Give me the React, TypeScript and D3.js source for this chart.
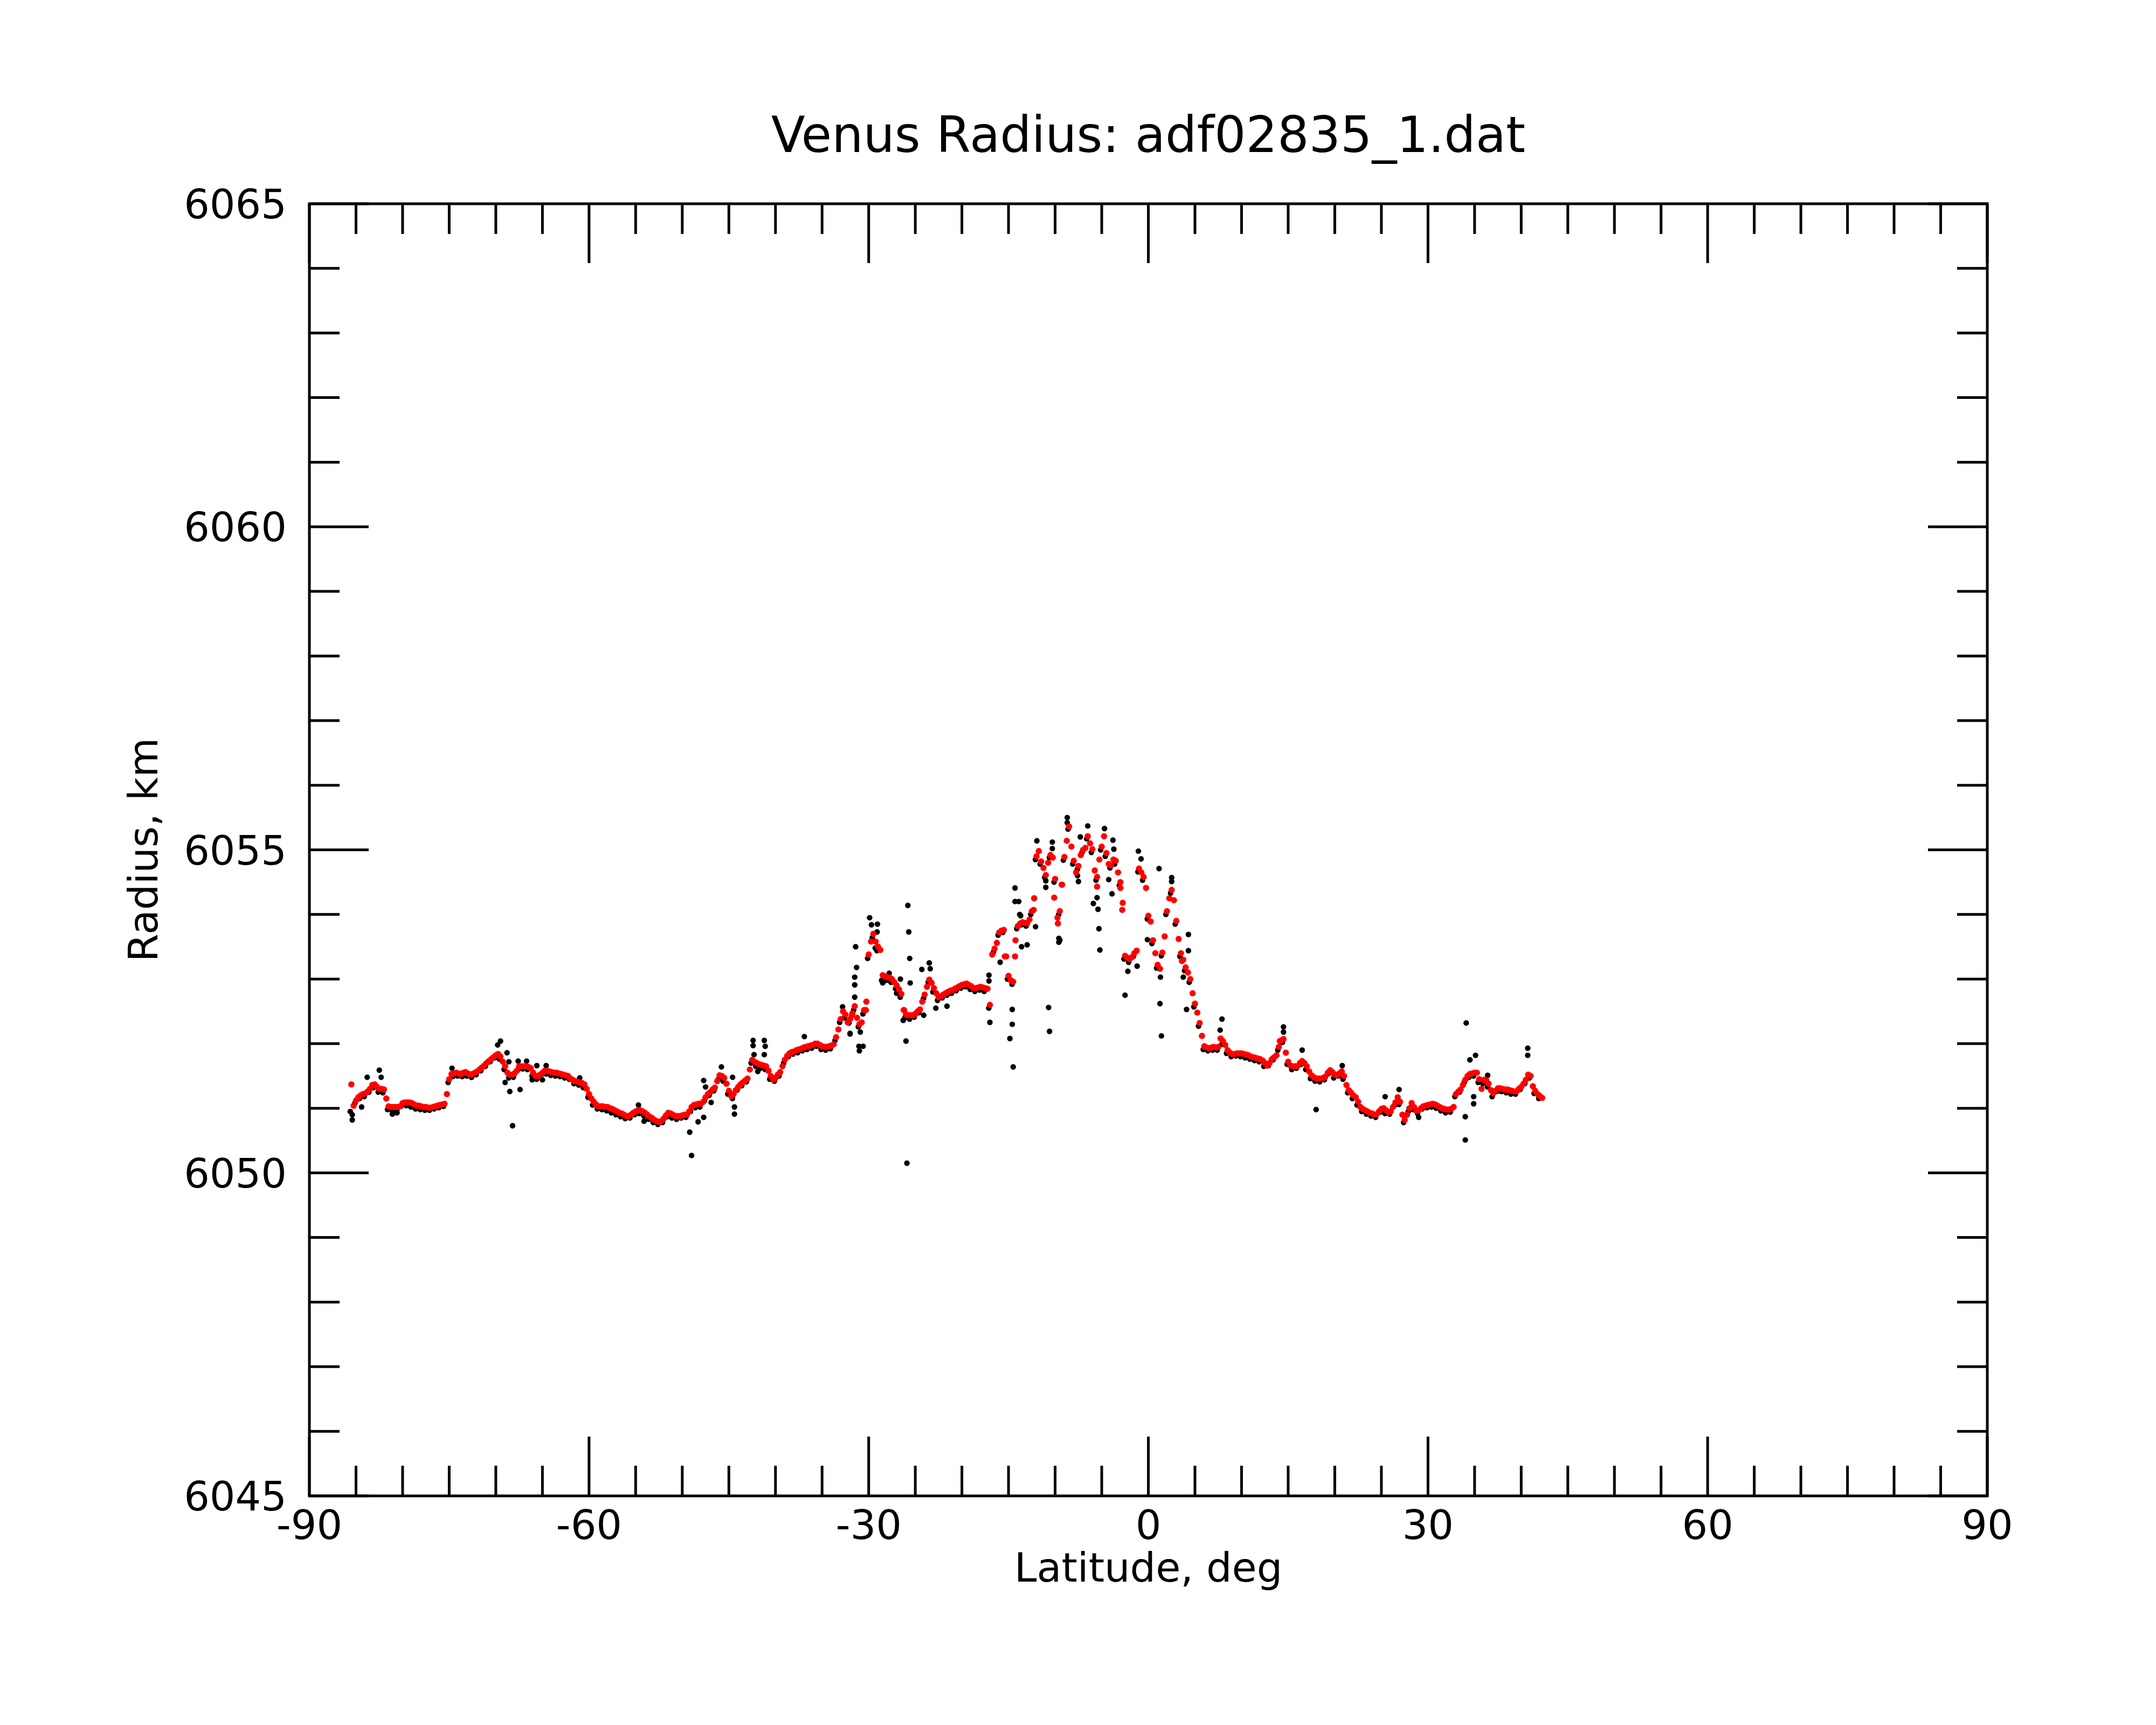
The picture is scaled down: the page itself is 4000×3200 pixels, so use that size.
import * as d3 from 'd3';

const TITLE = 'Venus Radius: adf02835_1.dat';
const X_LABEL = 'Latitude, deg';
const Y_LABEL = 'Radius, km';

const xMajorTicks = [-90, -60, -30, 0, 30, 60, 90];
const yMajorTicks = [6045, 6050, 6055, 6060, 6065];

// smoothed radius (red), one value every 0.25 deg from -85.5
const smoothStart = -85.5;
const smoothStep = 0.25;
const smoothRadius = [
  6051.37, 6051.04, 6051.12, 6051.17, 6051.20, 6051.22, 6051.23, 6051.26, 6051.30, 6051.36, 6051.37, 6051.33, 6051.30, 6051.30, 6051.29, 6051.15, 6051.03, 6051.02, 6051.02, 6051.02,
  6051.02, 6051.03, 6051.08, 6051.09, 6051.09, 6051.09, 6051.08, 6051.06, 6051.04, 6051.04, 6051.03, 6051.02, 6051.02, 6051.01, 6051.01, 6051.02, 6051.03, 6051.04, 6051.05, 6051.06,
  6051.07, 6051.22, 6051.45, 6051.53, 6051.54, 6051.55, 6051.54, 6051.53, 6051.55, 6051.56, 6051.54, 6051.52, 6051.53, 6051.55, 6051.57, 6051.60, 6051.63, 6051.66, 6051.70, 6051.73,
  6051.76, 6051.79, 6051.82, 6051.84, 6051.80, 6051.72, 6051.65, 6051.55, 6051.52, 6051.52, 6051.54, 6051.58, 6051.65, 6051.65, 6051.65, 6051.65, 6051.64, 6051.62, 6051.55, 6051.50,
  6051.50, 6051.52, 6051.55, 6051.58, 6051.58, 6051.57, 6051.56, 6051.55, 6051.55, 6051.54, 6051.53, 6051.52, 6051.51, 6051.50, 6051.46, 6051.44, 6051.42, 6051.41, 6051.40, 6051.39,
  6051.37, 6051.30, 6051.22, 6051.15, 6051.10, 6051.06, 6051.03, 6051.03, 6051.03, 6051.02, 6051.02, 6051.00, 6050.99, 6050.97, 6050.95, 6050.93, 6050.92, 6050.90, 6050.88, 6050.88,
  6050.90, 6050.93, 6050.95, 6050.97, 6050.97, 6050.95, 6050.93, 6050.90, 6050.87, 6050.85, 6050.82, 6050.80, 6050.79, 6050.80, 6050.84, 6050.89, 6050.93, 6050.92, 6050.90, 6050.88,
  6050.88, 6050.88, 6050.89, 6050.90, 6050.90, 6050.95, 6051.02, 6051.05, 6051.06, 6051.07, 6051.07, 6051.10, 6051.17, 6051.22, 6051.25, 6051.29, 6051.32, 6051.42, 6051.51, 6051.50,
  6051.47, 6051.38, 6051.27, 6051.19, 6051.22, 6051.28, 6051.33, 6051.37, 6051.40, 6051.43, 6051.46, 6051.60, 6051.75, 6051.72, 6051.70, 6051.68, 6051.67, 6051.66, 6051.65, 6051.58,
  6051.50, 6051.44, 6051.47, 6051.52, 6051.56, 6051.65, 6051.75, 6051.81, 6051.85, 6051.87, 6051.88, 6051.90, 6051.91, 6051.92, 6051.94, 6051.95, 6051.96, 6051.97, 6051.98, 6052.00,
  6052.00, 6051.98, 6051.96, 6051.95, 6051.95, 6051.96, 6051.97, 6051.99, 6052.10, 6052.22, 6052.38, 6052.50, 6052.45, 6052.33, 6052.38, 6052.47, 6052.58, 6052.40, 6052.30, 6052.33,
  6052.52, 6052.65, 6053.38, 6053.58, 6053.70, 6053.58, 6053.50, 6053.45, 6053.06, 6053.04, 6053.03, 6053.02, 6053.00, 6052.95, 6052.90, 6052.84, 6052.77, 6052.52, 6052.45, 6052.44,
  6052.44, 6052.44, 6052.46, 6052.50, 6052.53, 6052.65, 6052.76, 6052.88, 6052.99, 6052.94, 6052.86, 6052.78, 6052.72, 6052.73, 6052.76, 6052.78, 6052.80, 6052.82, 6052.83, 6052.85,
  6052.87, 6052.89, 6052.91, 6052.92, 6052.93, 6052.91, 6052.89, 6052.86, 6052.86, 6052.87, 6052.88, 6052.87, 6052.86, 6052.85, 6052.60, 6053.38, 6053.47, 6053.56, 6053.72, 6053.75,
  6053.76, 6053.35, 6053.05, 6052.98, 6052.96, 6053.60, 6053.82, 6053.86, 6053.88, 6053.87, 6053.86, 6053.92, 6054.05, 6054.25, 6054.90, 6054.98, 6054.82, 6054.72, 6054.61, 6054.80,
  6054.92, 6054.88, 6054.55, 6053.95, 6054.05, 6054.46, 6054.89, 6055.14, 6055.36, 6055.05, 6054.83, 6054.65, 6054.75, 6054.92, 6055.00, 6055.03, 6055.21, 6055.10, 6055.01, 6054.68,
  6054.58, 6054.85, 6055.05, 6055.21, 6054.95, 6054.78, 6054.76, 6054.85, 6054.83, 6054.65, 6054.50, 6054.18, 6053.36, 6053.33, 6053.31, 6053.34, 6053.40, 6053.44, 6054.71, 6054.65,
  6054.58, 6054.41, 6053.98, 6053.89, 6053.60, 6053.40, 6053.22, 6053.16, 6053.41, 6053.66, 6054.05, 6054.25, 6054.38, 6054.22, 6053.90, 6053.62, 6053.40, 6053.30, 6053.18, 6053.10,
  6053.00, 6052.78, 6052.62, 6052.48, 6052.32, 6052.12, 6051.96, 6051.94, 6051.93, 6051.94, 6051.95, 6051.94, 6051.95, 6052.08, 6052.04, 6051.98, 6051.90, 6051.86, 6051.84, 6051.84,
  6051.85, 6051.85, 6051.85, 6051.84, 6051.83, 6051.82, 6051.80, 6051.79, 6051.78, 6051.77, 6051.76, 6051.74, 6051.70, 6051.66, 6051.70, 6051.76, 6051.79, 6051.82, 6051.95, 6052.05,
  6052.07, 6051.86, 6051.72, 6051.66, 6051.65, 6051.65, 6051.65, 6051.70, 6051.73, 6051.70, 6051.65, 6051.57, 6051.51, 6051.48, 6051.46, 6051.46, 6051.46, 6051.47, 6051.49, 6051.55,
  6051.59, 6051.56, 6051.52, 6051.51, 6051.54, 6051.57, 6051.50, 6051.36, 6051.28, 6051.24, 6051.20, 6051.17, 6051.10, 6051.02, 6050.99, 6050.97, 6050.95, 6050.93, 6050.92, 6050.90,
  6050.91, 6050.95, 6050.99, 6051.00, 6050.97, 6050.94, 6050.95, 6051.02, 6051.09, 6051.17, 6051.10, 6050.90, 6050.82, 6050.90, 6051.00, 6051.08, 6051.02, 6050.96, 6050.97, 6051.00,
  6051.03, 6051.04, 6051.05, 6051.06, 6051.07, 6051.06, 6051.04, 6051.02, 6051.00, 6050.99, 6050.98, 6050.98, 6050.99, 6051.02, 6051.22, 6051.26, 6051.29, 6051.36, 6051.44, 6051.50,
  6051.53, 6051.54, 6051.55, 6051.55, 6051.45, 6051.30, 6051.44, 6051.43, 6051.38, 6051.28, 6051.23, 6051.27, 6051.31, 6051.31, 6051.30, 6051.29, 6051.29, 6051.28, 6051.27, 6051.26,
  6051.26, 6051.30, 6051.33, 6051.38, 6051.44, 6051.52, 6051.50, 6051.34, 6051.27, 6051.22, 6051.19, 6051.16,
];

// a few smoothed points that split off the main track
const smoothExtra: [number, number][] = [
  [-31.8, 6052.44], [-30.3, 6052.52], [-15.4, 6053.35], [-14.3, 6053.35], [-12.3, 6054.07],
  [-10.1, 6054.26], [-9.7, 6053.86], [-9.3, 6054.46], [-5.5, 6054.43], [-3.0, 6054.41],
  [-2.8, 6054.07], [3.6, 6053.28], [-26.2, 6052.52], [14.1, 6052.04],
];

// raw radius (black) along the track, one value every 0.5 deg from -85.5
const rawStart = -85.5;
const rawStep = 0.5;
const rawRadius = [
  6050.95, 6051.08, 6051.15, 6051.18, 6051.25, 6051.32, 6051.25, 6051.24, 6050.98, 6050.96,
  6050.97, 6051.04, 6051.04, 6051.02, 6050.99, 6050.98, 6050.97, 6050.97, 6050.99, 6051.01,
  6051.03, 6051.40, 6051.49, 6051.50, 6051.49, 6051.50, 6051.48, 6051.52, 6051.58, 6051.65,
  6051.72, 6051.78, 6051.76, 6051.60, 6051.47, 6051.48, 6051.60, 6051.61, 6051.60, 6051.50,
  6051.45, 6051.52, 6051.53, 6051.51, 6051.50, 6051.49, 6051.47, 6051.45, 6051.38, 6051.36,
  6051.32, 6051.17, 6051.05, 6050.99, 6050.98, 6050.96, 6050.93, 6050.90, 6050.87, 6050.84,
  6050.85, 6050.90, 6050.92, 6050.88, 6050.83, 6050.78, 6050.75, 6050.78, 6050.87, 6050.85,
  6050.83, 6050.85, 6050.86, 6050.95, 6051.01, 6051.02, 6051.12, 6051.20, 6051.27, 6051.45,
  6051.42, 6051.22, 6051.15, 6051.28, 6051.35, 6051.41, 6051.70, 6051.65, 6051.62, 6051.60,
  6051.45, 6051.42, 6051.50, 6051.70, 6051.80, 6051.84, 6051.86, 6051.89, 6051.91, 6051.93,
  6051.96, 6051.91, 6051.90, 6051.92, 6052.05, 6052.33, 6052.40, 6052.32, 6052.52, 6052.26,
  6052.46, 6053.32, 6053.64, 6053.44, 6052.98, 6052.98, 6052.95, 6052.85, 6052.72, 6052.40,
  6052.38, 6052.41, 6052.48, 6052.70, 6052.95, 6052.80, 6052.67, 6052.71, 6052.75, 6052.78,
  6052.82, 6052.86, 6052.88, 6052.84, 6052.81, 6052.83, 6052.81, 6052.55, 6053.42, 6053.68,
  6053.72, 6053.00, 6052.92, 6053.78, 6053.84, 6053.82, 6054.00, 6054.85, 6054.78, 6054.57,
  6054.88, 6054.50, 6054.00, 6054.84, 6055.32, 6054.78, 6054.70, 6054.96, 6055.17, 6054.96,
  6054.53, 6055.00, 6054.90, 6054.72, 6054.78, 6054.45, 6053.31, 6053.26, 6053.35, 6054.66,
  6054.53, 6053.93, 6053.55, 6053.17, 6053.36, 6054.00, 6054.33, 6053.85, 6053.35, 6053.13,
  6052.95, 6052.57, 6052.27, 6051.91, 6051.89, 6051.90, 6051.90, 6051.99, 6051.85, 6051.80,
  6051.81, 6051.80, 6051.78, 6051.76, 6051.74, 6051.72, 6051.65, 6051.66, 6051.75, 6051.90,
  6052.02, 6051.68, 6051.60, 6051.62, 6051.68, 6051.60, 6051.46, 6051.42, 6051.41, 6051.44,
  6051.54, 6051.47, 6051.50, 6051.45, 6051.24, 6051.15, 6051.05, 6050.95, 6050.91, 6050.88,
  6050.86, 6050.94, 6050.92, 6050.91, 6051.04, 6051.06, 6050.78, 6050.95, 6050.98, 6050.92,
  6050.99, 6051.01, 6051.02, 6051.00, 6050.96, 6050.93, 6050.94, 6051.18, 6051.25, 6051.40,
  6051.48, 6051.50, 6051.40, 6051.38, 6051.33, 6051.18, 6051.26, 6051.26, 6051.24, 6051.22,
  6051.22, 6051.29, 6051.38, 6051.47, 6051.23, 6051.15,
];

// raw points scattered off the track [lat, radius]
const rawOutliers: [number, number][] = [
  [-85.4, 6050.82], [-85.4, 6050.90], [-84.4, 6051.02], [-83.8, 6051.48], [-82.5, 6051.59],
  [-82.3, 6051.48], [-81.1, 6050.91], [-80.6, 6050.93], [-74.7, 6051.62], [-72.6, 6051.48],
  [-69.8, 6051.98], [-69.5, 6052.04], [-68.8, 6051.86], [-68.6, 6051.72], [-69.0, 6051.40],
  [-68.5, 6051.26], [-67.4, 6051.29], [-68.2, 6050.73], [-67.6, 6051.73], [-66.7, 6051.73],
  [-65.6, 6051.66], [-66.1, 6051.44], [-65.0, 6051.44], [-64.6, 6051.66], [-61.0, 6051.47],
  [-54.7, 6051.05], [-54.1, 6050.80],
  [-49.2, 6050.63], [-49.0, 6050.27], [-48.3, 6050.79], [-47.7, 6050.86], [-47.7, 6051.43],
  [-47.5, 6051.33], [-46.9, 6051.09], [-45.8, 6051.64], [-44.6, 6051.48], [-44.4, 6051.02],
  [-44.4, 6050.91], [-42.4, 6052.05], [-42.4, 6051.97], [-42.3, 6051.83], [-41.2, 6052.05],
  [-41.1, 6051.96], [-41.2, 6051.83], [-41.9, 6051.57], [-36.9, 6052.11], [-32.8, 6052.57],
  [-32.0, 6052.16],
  [-31.4, 6053.50], [-31.3, 6053.18], [-31.5, 6053.03], [-31.5, 6052.91], [-31.5, 6052.72],
  [-32.0, 6052.15], [-30.9, 6052.18], [-31.05, 6051.96], [-30.6, 6051.96], [-31.0, 6051.89],
  [-29.9, 6053.95], [-29.7, 6053.84], [-29.06, 6053.85], [-29.1, 6053.73], [-29.3, 6053.48],
  [-25.8, 6054.14], [-25.7, 6053.73], [-25.6, 6053.32], [-25.55, 6052.94], [-26.0, 6052.04],
  [-25.9, 6050.15], [-21.6, 6052.58], [-22.8, 6052.55], [-24.3, 6053.15], [-23.5, 6053.25],
  [-23.4, 6053.16], [-24.1, 6052.44], [-26.3, 6052.36], [-26.6, 6053.00], [-27.0, 6052.78],
  [-28.5, 6052.94], [-27.8, 6053.09],
  [-14.3, 6054.20], [-13.8, 6054.00], [-13.6, 6053.50], [-13.0, 6053.53], [-15.9, 6053.26],
  [-17.1, 6053.06], [-17.0, 6052.33], [-14.6, 6052.53], [-14.6, 6052.30], [-14.85, 6052.08],
  [-14.5, 6051.64], [-10.7, 6052.56], [-10.6, 6052.19], [-9.5, 6053.60], [-17.1, 6052.97],
  [-11.96, 6055.14], [-10.3, 6055.12], [-10.3, 6055.02], [-8.7, 6055.50], [-8.7, 6055.42],
  [-6.5, 6055.37], [-4.7, 6055.33], [-3.8, 6055.15], [-3.7, 6055.01], [-7.3, 6055.20],
  [-1.07, 6054.98], [-0.78, 6054.86], [1.15, 6054.71], [2.5, 6054.57], [2.5, 6054.51],
  [4.3, 6053.69], [4.3, 6053.44], [4.1, 6052.53], [7.9, 6052.38], [7.7, 6052.21],
  [-14.3, 6054.41], [-13.9, 6054.20], [-13.7, 6053.98], [-12.1, 6053.81], [-11.0, 6054.42],
  [-11.0, 6054.52], [-9.6, 6053.63], [-9.6, 6053.57], [-7.5, 6054.51], [-7.6, 6054.60],
  [-5.5, 6054.26], [-5.9, 6054.17], [-5.4, 6054.08], [-5.3, 6053.78], [-5.2, 6053.45],
  [-4.25, 6054.54], [-3.9, 6054.32], [-2.5, 6052.75], [-2.2, 6053.12], [-1.2, 6053.20],
  [-0.1, 6053.61], [1.25, 6052.62], [1.4, 6052.12], [1.3, 6053.03], [3.75, 6053.03],
  [14.5, 6052.26], [14.5, 6052.18], [18.0, 6050.98], [16.5, 6051.90], [20.8, 6051.66],
  [26.9, 6051.29], [25.4, 6051.18], [34.1, 6052.32], [34.0, 6050.51], [34.0, 6050.87],
  [35.1, 6051.82], [34.5, 6051.75], [34.9, 6051.18], [34.9, 6051.07], [40.7, 6051.93],
  [40.7, 6051.82], [36.4, 6051.51], [29.0, 6050.86],
];

const W = 4000;
const H = 3200;
const plot = { left: 574, right: 3687, top: 378, bottom: 2775 };
const FONT = 'DejaVu Sans, sans-serif';

export default function App() {
  const x = d3.scaleLinear().domain([-90, 90]).range([plot.left, plot.right]);
  const y = d3.scaleLinear().domain([6045, 6065]).range([plot.bottom, plot.top]);

  const xMinor = d3.range(-90, 91, 5);
  const yMinor = d3.range(6045, 6066, 1);
  const majorLen = 110;
  const minorLen = 56;
  const sw = 5;

  const smoothPts = smoothRadius.map((r, i) => [smoothStart + i * smoothStep, r] as [number, number]);
  const rawPts = rawRadius.map((r, i) => [rawStart + i * rawStep, r] as [number, number]);

  return (
    <svg
      width={W}
      height={H}
      viewBox={`0 0 ${W} ${H}`}
      style={{ position: 'absolute', left: 0, top: 0, background: '#fff' }}
      fontFamily={FONT}
    >
      <rect x={0} y={0} width={W} height={H} fill="#fff" />

      <text x={(plot.left + plot.right) / 2} y={282} textAnchor="middle" fontSize={92} fill="#000">
        {TITLE}
      </text>

      {/* raw data */}
      <g fill="#000">
        {rawPts.map(([lat, r], i) => (
          <circle key={`r${i}`} cx={x(lat) - 2} cy={y(r)} r={5.2} />
        ))}
        {rawOutliers.map(([lat, r], i) => (
          <circle key={`o${i}`} cx={x(lat)} cy={y(r)} r={5.2} />
        ))}
      </g>

      {/* smoothed data */}
      <g fill="#ff0000">
        {smoothPts.map(([lat, r], i) => (
          <circle key={`s${i}`} cx={x(lat)} cy={y(r)} r={5.8} />
        ))}
        {smoothExtra.map(([lat, r], i) => (
          <circle key={`e${i}`} cx={x(lat)} cy={y(r)} r={5.8} />
        ))}
      </g>

      {/* ticks */}
      <g stroke="#000" strokeWidth={sw}>
        {xMinor.map((v) => {
          const len = xMajorTicks.includes(v) ? majorLen : minorLen;
          return (
            <g key={`xt${v}`}>
              <line x1={x(v)} x2={x(v)} y1={plot.bottom} y2={plot.bottom - len} />
              <line x1={x(v)} x2={x(v)} y1={plot.top} y2={plot.top + len} />
            </g>
          );
        })}
        {yMinor.map((v) => {
          const len = yMajorTicks.includes(v) ? majorLen : minorLen;
          return (
            <g key={`yt${v}`}>
              <line x1={plot.left} x2={plot.left + len} y1={y(v)} y2={y(v)} />
              <line x1={plot.right} x2={plot.right - len} y1={y(v)} y2={y(v)} />
            </g>
          );
        })}
      </g>

      <rect
        x={plot.left}
        y={plot.top}
        width={plot.right - plot.left}
        height={plot.bottom - plot.top}
        fill="none"
        stroke="#000"
        strokeWidth={sw}
      />

      <g fontSize={75} fill="#000">
        {xMajorTicks.map((v) => (
          <text key={`xl${v}`} x={x(v)} y={2855} textAnchor="middle">
            {v}
          </text>
        ))}
        {yMajorTicks.map((v) => (
          <text key={`yl${v}`} x={532} y={y(v) + 27} textAnchor="end">
            {v}
          </text>
        ))}
        <text x={(plot.left + plot.right) / 2} y={2934} textAnchor="middle">
          {X_LABEL}
        </text>
        <text
          transform={`translate(292, ${(plot.top + plot.bottom) / 2}) rotate(-90)`}
          textAnchor="middle"
        >
          {Y_LABEL}
        </text>
      </g>
    </svg>
  );
}
